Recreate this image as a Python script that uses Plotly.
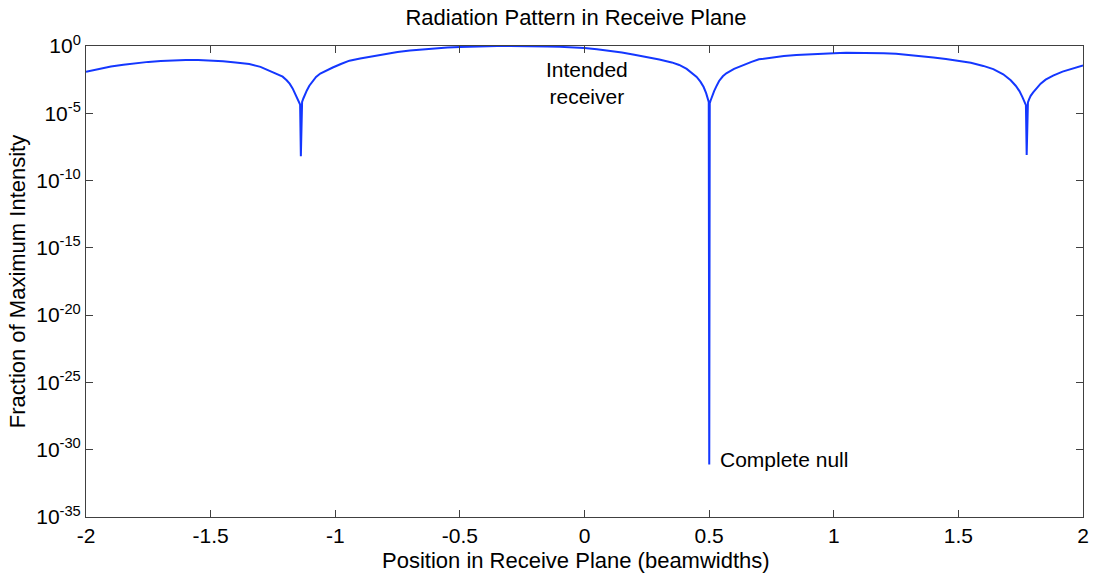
import plotly.graph_objects as go

# Position in the receive plane (beamwidths)
position = [
    -2.00, -1.95, -1.90, -1.85, -1.80, -1.75, -1.70, -1.65, -1.60, -1.55,
    -1.50, -1.45, -1.40, -1.345, -1.30, -1.278, -1.25, -1.23, -1.211, -1.195,
    -1.183, -1.171, -1.161, -1.153, -1.146, -1.141, -1.138, -1.136, -1.133, -1.128,
    -1.123, -1.114, -1.104, -1.09, -1.077, -1.06, -1.04, -1.01, -0.975, -0.943,
    -0.90, -0.85, -0.80, -0.75, -0.70, -0.65, -0.60, -0.55, -0.50, -0.45,
    -0.40, -0.35, -0.30, -0.25, -0.20, -0.15, -0.10, -0.05, 0.00, 0.05,
    0.10, 0.15, 0.20, 0.25, 0.30, 0.35, 0.38, 0.41, 0.434, 0.45,
    0.465, 0.478, 0.488, 0.494, 0.4985, 0.5005, 0.5015, 0.5025, 0.506, 0.511,
    0.52, 0.529, 0.54, 0.555, 0.569, 0.60, 0.636, 0.67, 0.70, 0.75,
    0.80, 0.85, 0.90, 0.95, 1.00, 1.05, 1.10, 1.15, 1.20, 1.25,
    1.30, 1.35, 1.40, 1.45, 1.50, 1.55, 1.60, 1.64, 1.68, 1.71,
    1.73, 1.745, 1.757, 1.766, 1.771, 1.774, 1.776, 1.779, 1.784, 1.79,
    1.80, 1.815, 1.83, 1.85, 1.88, 1.918, 1.96, 2.00,
]

# Fraction of maximum intensity, as powers of ten
log10_intensity = [
    -1.91, -1.70, -1.53, -1.40, -1.28, -1.18, -1.11, -1.06, -1.04, -1.04,
    -1.07, -1.13, -1.22, -1.34, -1.55, -1.72, -1.95, -2.10, -2.28, -2.55,
    -2.80, -3.15, -3.55, -3.90, -4.20, -4.35, -8.20, -4.35, -4.15, -3.90,
    -3.65, -3.30, -2.95, -2.60, -2.30, -2.05, -1.85, -1.60, -1.32, -1.09,
    -0.93, -0.76, -0.60, -0.45, -0.34, -0.25, -0.18, -0.12, -0.08, -0.04,
    -0.01, 0.00, 0.00, 0.00, -0.01, -0.03, -0.06, -0.10, -0.15, -0.24,
    -0.35, -0.48, -0.65, -0.82, -1.00, -1.22, -1.41, -1.70, -2.03, -2.30,
    -2.65, -3.05, -3.50, -3.85, -4.15, -31.1, -17.6, -4.25, -4.05, -3.75,
    -3.35, -3.00, -2.60, -2.25, -2.03, -1.70, -1.41, -1.18, -0.99, -0.85,
    -0.74, -0.66, -0.60, -0.56, -0.53, -0.51, -0.50, -0.50, -0.53, -0.58,
    -0.66, -0.75, -0.85, -0.96, -1.08, -1.25, -1.48, -1.72, -2.10, -2.55,
    -2.95, -3.35, -3.80, -4.15, -4.40, -8.10, -4.40, -4.20, -3.95, -3.70,
    -3.45, -3.10, -2.80, -2.50, -2.20, -1.90, -1.65, -1.45,
]

intensity = [10 ** p for p in log10_intensity]

y_tick_powers = [0, -5, -10, -15, -20, -25, -30, -35]
x_tick_values = [-2, -1.5, -1, -0.5, 0, 0.5, 1, 1.5, 2]
x_tick_labels = ["-2", "-1.5", "-1", "-0.5", "0", "0.5", "1", "1.5", "2"]

font_family = "Liberation Sans, Arial, sans-serif"

fig = go.Figure()
fig.add_trace(go.Scatter(
    x=position,
    y=intensity,
    mode="lines",
    line=dict(color="rgb(20,55,255)", width=2),
    showlegend=False,
    hoverinfo="skip",
))

# Annotation positions on a log axis are given as powers of ten
fig.add_annotation(
    x=0.012, y=-2.75, xref="x", yref="y",
    text="Intended<br>receiver", showarrow=False,
    font=dict(size=21, color="black", family=font_family),
    align="center",
)
fig.add_annotation(
    x=0.535, y=-30.7, xref="x", yref="y",
    text="Complete null", showarrow=False, xanchor="left",
    font=dict(size=21, color="black", family=font_family),
)
# x-axis label
fig.add_annotation(
    x=0.4915, y=-0.092, xref="paper", yref="paper",
    text="Position in Receive Plane (beamwidths)", showarrow=False,
    xanchor="center", yanchor="middle",
    font=dict(size=22, color="black", family=font_family),
)

axis_common = dict(
    showline=True, linecolor="#404040", linewidth=1,
    mirror="ticks", ticks="inside", ticklen=7, tickcolor="#404040",
    showgrid=False, zeroline=False, automargin=False,
    tickfont=dict(size=21, color="black", family=font_family),
)

fig.update_xaxes(
    range=[-2, 2],
    tickvals=x_tick_values, ticktext=x_tick_labels,
    **axis_common,
)
fig.update_yaxes(
    type="log",
    range=[-35, 0],
    tickvals=[10 ** p for p in y_tick_powers],
    ticktext=[f"10<sup>{p}</sup>" for p in y_tick_powers],
    title=dict(text="Fraction of Maximum Intensity", standoff=4,
               font=dict(size=22, color="black", family=font_family)),
    **axis_common,
)

fig.update_layout(
    width=1093, height=573,
    margin=dict(l=86, r=10, t=46, b=56),
    paper_bgcolor="white", plot_bgcolor="white",
    title=dict(text="Radiation Pattern in Receive Plane", x=0.527, xanchor="center",
               y=0.969, yanchor="middle",
               font=dict(size=22, color="black", family=font_family)),
)

fig.write_html("out.html")
